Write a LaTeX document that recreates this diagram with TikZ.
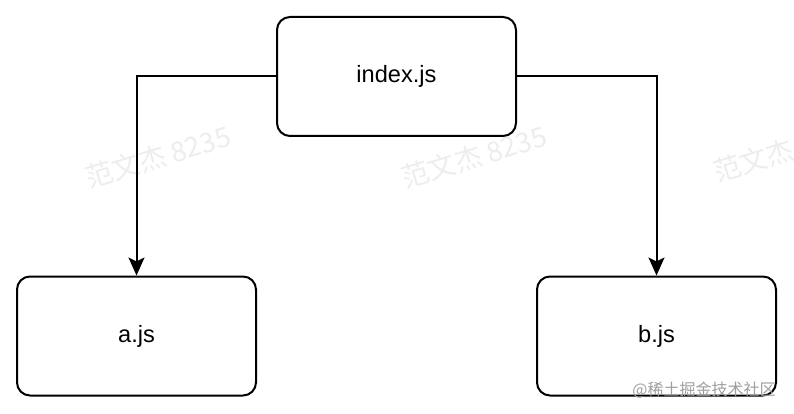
\documentclass[tikz,border=0pt]{standalone}
\usepackage{fontspec}
\setmainfont{Liberation Sans}
\newfontfamily\cjk{Noto Sans CJK SC}
\usetikzlibrary{arrows.meta,positioning}

\begin{document}
\begin{tikzpicture}[x=1pt, y=-1pt, line width=2pt,
  file node/.style={rectangle,rounded corners=13pt,draw,minimum width=239pt,minimum height=119pt,inner sep=0pt,font=\fontsize{23.6}{28}\selectfont},
  dep/.style={-{Stealth[length=18pt,width=16pt,inset=4pt]}},
  mark text/.style={text=black!7,rotate=17,font=\cjk\fontsize{27.5}{30}\selectfont}]%watermark
\useasboundingbox (0,0) rectangle (794,414);
\begin{scope}
\node[mark text] (w1) at (158,157) {范文杰 8235};
\node[mark text] (w2) at (474,157) {范文杰 8235};
\node[mark text,anchor=west] (w3) at (710,174) {范文杰 8235};
\end{scope}
\begin{scope}
\node[file node] (index) at (396.5,76.5) {index.js};
\node[file node] (a) at (136.5,336) {a.js};
\node[file node] (b) at (656.5,336) {b.js};
\end{scope}
\begin{scope}
\draw[dep] (index.west) -| (a.north);
\draw[dep] (index.east) -| (b.north);
\end{scope}
\node[text=black!38,font=\cjk\fontsize{16}{18}\selectfont,inner sep=0pt] (site) at (704,390) {@稀土掘金技术社区};
\end{tikzpicture}
\end{document}
